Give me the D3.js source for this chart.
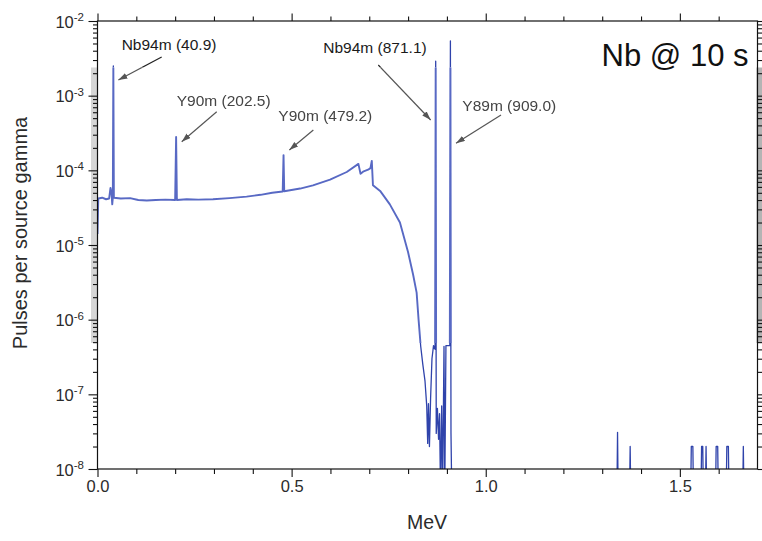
<!DOCTYPE html>
<html>
<head>
<meta charset="utf-8">
<script src="https://cdn.jsdelivr.net/npm/d3@7"></script>
<style>
  body { margin: 0; background: #fff; }
  svg { display: block; font-family: "Liberation Sans", Arial, Helvetica, sans-serif; }
</style>
</head>
<body>
<svg id="chart" width="762" height="541"></svg>
<script>
// ---- Spectrum: energy (MeV) and pulses per source gamma ----
const energy = [
  0.000, 0.002, 0.012, 0.022, 0.030, 0.0335, 0.036, 0.038, 0.0395, 0.0408, 0.0422,
  0.060, 0.084, 0.105, 0.127, 0.150, 0.175, 0.200, 0.2025, 0.2045,
  0.230, 0.260, 0.2975, 0.340, 0.384, 0.420, 0.450, 0.477, 0.4792, 0.481,
  0.522, 0.555, 0.599, 0.642, 0.672, 0.6775, 0.684, 0.697, 0.703, 0.7065, 0.7095,
  0.728, 0.753, 0.779, 0.800, 0.813, 0.822, 0.827, 0.8325, 0.838, 0.8436,
  0.848, 0.8505, 0.8525, 0.855, 0.858, 0.8615, 0.8655, 0.8695, 0.8711, 0.8725,
  0.8755, 0.8785, 0.881, 0.8835, 0.8865, 0.889, 0.8925, 0.8945, 0.8975, 0.9075,
  0.909, 0.9105, 0.9125,
  1.338, 1.3395, 1.341, 1.3705, 1.372, 1.3735,
  1.528, 1.5295, 1.5335, 1.535, 1.5545, 1.556, 1.559, 1.5605,
  1.566, 1.5675, 1.569, 1.592, 1.5935, 1.5975, 1.599,
  1.6195, 1.621, 1.625, 1.6265, 1.662, 1.6635, 1.665, 1.700
];
const pulses = [
  1.4e-5, 4.2e-5, 4.3e-5, 4.1e-5, 4.2e-5, 5.8e-5, 5.0e-5, 3.5e-5, 4.3e-5, 2.5e-3, 4.3e-5,
  4.2e-5, 4.25e-5, 4.0e-5, 3.95e-5, 4.0e-5, 4.05e-5, 4.0e-5, 2.8e-4, 4.0e-5,
  4.1e-5, 4.05e-5, 4.1e-5, 4.25e-5, 4.45e-5, 4.7e-5, 5.0e-5, 5.2e-5, 1.6e-4, 5.25e-5,
  5.7e-5, 6.3e-5, 7.5e-5, 9.5e-5, 1.22e-4, 9.0e-5, 9.6e-5, 1.02e-4, 1.07e-4, 1.34e-4, 6.3e-5,
  5.3e-5, 3.5e-5, 2.0e-5, 8.0e-6, 4.0e-6, 2.3e-6, 1.0e-6, 4.4e-7, 2.5e-7, 1.5e-7,
  7.0e-8, 2.2e-8, 7.5e-8, 2.0e-8, 9.0e-8, 3.0e-7, 4.5e-7, 4.0e-7, 2.9e-3, 3.0e-8,
  6.5e-8, 2.5e-8, 5.5e-8, 5.0e-9, 7.0e-8, 5.0e-9, 4.4e-7, 5.0e-9, 4.5e-7, 4.5e-7,
  5.4e-3, 3.0e-8, 5.0e-9,
  5.0e-9, 3.1e-8, 5.0e-9, 5.0e-9, 2.0e-8, 5.0e-9,
  5.0e-9, 2.0e-8, 2.0e-8, 5.0e-9, 5.0e-9, 2.0e-8, 2.0e-8, 5.0e-9,
  5.0e-9, 2.0e-8, 5.0e-9, 5.0e-9, 2.0e-8, 2.0e-8, 5.0e-9,
  5.0e-9, 2.0e-8, 2.0e-8, 5.0e-9, 5.0e-9, 2.0e-8, 5.0e-9, 5.0e-9
];

// ---- Labelled lines (keV in the label, MeV for placement) ----
const peakLabels   = ["Nb94m (40.9)", "Y90m (202.5)", "Y90m (479.2)", "Nb94m (871.1)", "Y89m (909.0)"];
const peakEnergies = [0.0409, 0.2025, 0.4792, 0.8711, 0.9090];

// ---- Axis ticks and titles ----
const xMajorTicks  = [0.0, 0.5, 1.0, 1.5];
const xTickLabels  = ["0.0", "0.5", "1.0", "1.5"];
const yExponents   = [-2, -3, -4, -5, -6, -7, -8];
const xTitle = "MeV";
const yTitle = "Pulses per source gamma";
const panelTitle = "Nb @ 10 s";

// ---- Layout ----
const L = 97.5, R = 757.5, T = 21, B = 469;
const bandTop = 67.5, bandBottom = 343;

const x = d3.scaleLinear().domain([0, 1.7]).range([L, R]);
const y = d3.scaleLog().domain([1e-8, 1e-2]).range([B, T]);

const svg = d3.select("#chart");
svg.append("rect").attr("width", 762).attr("height", 541).attr("fill", "#fff");

const defs = svg.append("defs");
defs.append("clipPath").attr("id", "clipOut")
  .call(c => {
    c.append("rect").attr("x", L).attr("y", T - 30).attr("width", R - L).attr("height", bandTop - T + 30);
    c.append("rect").attr("x", L).attr("y", bandBottom).attr("width", R - L).attr("height", B - bandBottom);
  });
defs.append("clipPath").attr("id", "clipBand")
  .append("rect").attr("x", L).attr("y", bandTop).attr("width", R - L).attr("height", bandBottom - bandTop);
defs.append("clipPath").attr("id", "clipOutArrows")
  .call(c => {
    c.append("rect").attr("x", 0).attr("y", 0).attr("width", 762).attr("height", bandTop);
    c.append("rect").attr("x", 0).attr("y", bandBottom).attr("width", 762).attr("height", 541 - bandBottom);
  });
defs.append("clipPath").attr("id", "clipBandArrows")
  .append("rect").attr("x", 0).attr("y", bandTop).attr("width", 762).attr("height", bandBottom - bandTop);

defs.append("filter").attr("id", "soft")
  .attr("filterUnits", "userSpaceOnUse").attr("x", 0).attr("y", 0).attr("width", 762).attr("height", 541)
  .append("feGaussianBlur").attr("stdDeviation", 0.6);
defs.append("filter").attr("id", "softText")
  .attr("filterUnits", "userSpaceOnUse").attr("x", 0).attr("y", 0).attr("width", 762).attr("height", 541)
  .append("feGaussianBlur").attr("stdDeviation", 0.45);

function arrowMarker(id, color) {
  defs.append("marker").attr("id", id)
    .attr("markerUnits", "userSpaceOnUse")
    .attr("markerWidth", 10).attr("markerHeight", 7)
    .attr("refX", 9).attr("refY", 3).attr("orient", "auto")
    .append("path").attr("d", "M0,0 L9,3 L0,6 Z").attr("fill", color);
}
arrowMarker("headDark", "#222");
arrowMarker("headSoft", "#555");

// Grey edge strips of the softened band
svg.append("rect").attr("x", 91).attr("y", bandTop).attr("width", L - 91).attr("height", bandBottom - bandTop)
  .attr("fill", "#d6d6d6");
svg.append("rect").attr("x", R - 1).attr("y", bandTop).attr("width", 762 - R + 1).attr("height", bandBottom - bandTop)
  .attr("fill", "#b4b4b4");

// ---- Spectrum line ----
const spectrum = energy.map((e, i) => [e, pulses[i]]);
const line = d3.line().x(d => x(d[0])).y(d => y(Math.max(d[1], 1e-9)));

svg.append("g").attr("clip-path", "url(#clipOut)")
  .append("path").datum(spectrum)
  .attr("d", line).attr("fill", "none")
  .attr("stroke", "#2f43ab").attr("stroke-width", 1.3).attr("stroke-linejoin", "round");

svg.append("g").attr("clip-path", "url(#clipBand)")
  .append("g").attr("filter", "url(#soft)")
  .append("path").datum(spectrum)
  .attr("d", line).attr("fill", "none")
  .attr("stroke", "#5869c4").attr("stroke-width", 1.9).attr("stroke-linejoin", "round");

// ---- Annotation arrows ----
const labelLayout = [
  { dx: 8.3,    ty: 50,    from: [48.3, 57],   to: [5.0, 80] },
  { dx: 0.6,    ty: 106,   from: [40.6, 111.7], to: [5.6, 141.7] },
  { dx: -5.2,   ty: 120.5, from: [29.8, 130],  to: [5.8, 150] },
  { dx: -112.4, ty: 53,    from: [-57.4, 65],  to: [-5.0, 120] },
  { dx: 11.9,   ty: 110.5, from: [50.6, 115],  to: [5.6, 143.3] }
];
const arrows = peakEnergies.map((e, i) => ({ px: x(e), lay: labelLayout[i] }));

function drawArrows(g, color, marker) {
  g.selectAll("line").data(arrows).join("line")
    .attr("x1", d => d.px + d.lay.from[0]).attr("y1", d => d.lay.from[1])
    .attr("x2", d => d.px + d.lay.to[0]).attr("y2", d => d.lay.to[1])
    .attr("stroke", color).attr("stroke-width", 1.2)
    .attr("marker-end", `url(#${marker})`);
}
drawArrows(svg.append("g").attr("clip-path", "url(#clipOutArrows)"), "#222", "headDark");
drawArrows(svg.append("g").attr("clip-path", "url(#clipBandArrows)").append("g").attr("filter", "url(#soft)"), "#555", "headSoft");

// ---- Axes ----
const axisColor = "#111";
const xMinor = d3.range(0, 17).map(i => i / 10).filter(v => !xMajorTicks.some(m => Math.abs(m - v) < 1e-9));
const yAll = y.ticks();
const yMajor = yExponents.map(p => Math.pow(10, p));
const yMinor = yAll.filter(v => !yMajor.some(m => Math.abs(m - v) / m < 1e-6));

function styleAxis(g) {
  g.select(".domain").remove();
  g.selectAll(".tick line").attr("stroke", axisColor).attr("stroke-width", 1.1);
  g.selectAll(".tick text").attr("fill", "#2b2b2b");
}

// bottom
svg.append("g").attr("transform", `translate(0,${B})`)
  .call(d3.axisBottom(x).tickValues(xMinor).tickSize(5).tickFormat(""))
  .call(styleAxis);
svg.append("g").attr("transform", `translate(0,${B})`)
  .call(d3.axisBottom(x).tickValues(xMajorTicks).tickSize(8).tickPadding(3)
    .tickFormat((d, i) => xTickLabels[i]))
  .call(styleAxis)
  .call(g => g.selectAll(".tick text").attr("font-size", 16.5));
// top
svg.append("g").attr("transform", `translate(0,${T})`)
  .call(d3.axisTop(x).tickValues(xMinor).tickSize(4.5).tickFormat(""))
  .call(styleAxis);
svg.append("g").attr("transform", `translate(0,${T})`)
  .call(d3.axisTop(x).tickValues(xMajorTicks).tickSize(7.5).tickFormat(""))
  .call(styleAxis);
// left
svg.append("g").attr("transform", `translate(${L},0)`)
  .call(d3.axisLeft(y).tickValues(yMinor).tickSize(4.5).tickFormat(""))
  .call(styleAxis);
svg.append("g").attr("transform", `translate(${L},0)`)
  .call(d3.axisLeft(y).tickValues(yMajor).tickSize(9).tickPadding(4.5).tickFormat(() => "10"))
  .call(styleAxis)
  .call(g => {
    g.selectAll(".tick text")
      .attr("font-size", 16.5).attr("dy", "0.37em")
      .append("tspan")
      .attr("font-size", 11.5).attr("dy", -6.5)
      .text(d => String(Math.round(Math.log10(d))));
  });
// right
svg.append("g").attr("transform", `translate(${R},0)`)
  .call(d3.axisRight(y).tickValues(yMinor).tickSize(4.5).tickFormat(""))
  .call(styleAxis);
svg.append("g").attr("transform", `translate(${R},0)`)
  .call(d3.axisRight(y).tickValues(yMajor).tickSize(7).tickFormat(""))
  .call(styleAxis);

// frame
svg.append("rect").attr("x", L).attr("y", T).attr("width", R - L).attr("height", B - T)
  .attr("fill", "none").attr("stroke", axisColor).attr("stroke-width", 1.2);

// ---- Titles ----
svg.append("text").attr("x", 427).attr("y", 529).attr("text-anchor", "middle")
  .attr("font-size", 19.5).attr("fill", "#2b2b2b").text(xTitle);
svg.append("text").attr("transform", "translate(27,233) rotate(-90)").attr("text-anchor", "middle")
  .attr("font-size", 20).attr("fill", "#2b2b2b").text(yTitle);
svg.append("text").attr("x", 748.5).attr("y", 66).attr("text-anchor", "end")
  .attr("font-size", 31).attr("fill", "#111").text(panelTitle);

// ---- Line labels ----
svg.append("g").selectAll("text").data(arrows).join("text")
  .attr("x", d => d.px + d.lay.dx).attr("y", d => d.lay.ty)
  .attr("font-size", 15.5)
  .attr("fill", d => (d.lay.ty > bandTop ? "#444" : "#1a1a1a"))
  .attr("filter", d => (d.lay.ty > bandTop ? "url(#softText)" : null))
  .text((d, i) => peakLabels[i]);
</script>
</body>
</html>
